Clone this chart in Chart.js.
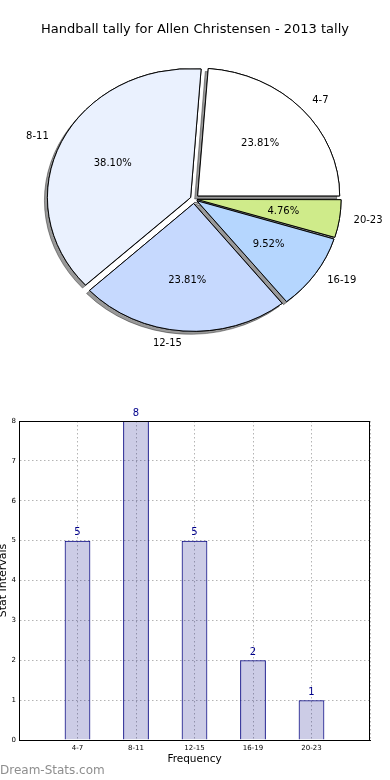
<!DOCTYPE html>
<html>
<head>
<meta charset="utf-8">
<script src="https://cdn.jsdelivr.net/npm/chart.js@4.4.0/dist/chart.umd.min.js"></script>
<style>
html, body { margin: 0; padding: 0; background: #fff; }
#wrap { position: relative; width: 390px; height: 780px; overflow: hidden; }
#pieChart { position: absolute; left: 0; top: 0; }
#barChart { position: absolute; left: 0; top: 390px; }
#mark { position: absolute; left: 0; top: 763px; font: 12px "DejaVu Sans", sans-serif; color: #8e8e8e; line-height: 14px; }
</style>
</head>
<body>
<div id="wrap">
  <canvas id="pieChart" width="390" height="390"></canvas>
  <canvas id="barChart" width="390" height="390"></canvas>
  <div id="mark">Dream-Stats.com</div>
</div>
<script>
// tally of score intervals
var chartTitle = 'Handball tally for Allen Christensen - 2013 tally';
var categories = ['4-7', '8-11', '12-15', '16-19', '20-23'];
var counts = [5, 8, 5, 2, 1];
var pieColors = ['#ffffff', '#eaf1fe', '#c6d9fe', '#b5d6fe', '#cfeb8a'];
var pieOffsets = [20, 15, 20, 14, 12];
var yTicks = [0, 1, 2, 3, 4, 5, 6, 7, 8];

Chart.defaults.font.family = '"DejaVu Sans", sans-serif';
Chart.defaults.color = '#000';

var squash = 0.9; // pie is drawn a bit flatter than round
var total = counts.reduce(function(a, b) { return a + b; }, 0);
// matplotlib draws counter-clockwise from 3 o'clock, chart.js goes clockwise
var pieOrder = [4, 3, 2, 1, 0];

var pieDeco = {
    id: 'pieDeco',
    beforeDatasetsDraw: function(chart) {
        var arcs = chart.getDatasetMeta(0).data;
        var a = arcs[0];
        var ctx = chart.ctx;
        ctx.save();
        ctx.translate(a.x, a.y);
        ctx.scale(1, squash);
        ctx.translate(-a.x, -a.y);
        // shadow pass, the normal draw covers it afterwards
        ctx.save();
        ctx.shadowColor = 'rgba(0,0,0,0.4)';
        ctx.shadowOffsetX = -3;
        ctx.shadowOffsetY = 3;
        ctx.shadowBlur = 0;
        arcs.forEach(function(arc) { arc.draw(ctx); });
        ctx.restore();
    },
    afterDatasetsDraw: function(chart) {
        var ctx = chart.ctx;
        ctx.restore();
        ctx.save();
        ctx.font = '10px "DejaVu Sans"';
        ctx.fillStyle = '#000';
        ctx.textBaseline = 'middle';
        chart.getDatasetMeta(0).data.forEach(function(arc, i) {
            var idx = pieOrder[i];
            var mid = (arc.startAngle + arc.endAngle) / 2;
            var off = (arc.options.offset || 0) / 4;
            var fix = 1 - Math.sin(Math.min(Math.PI, arc.circumference));
            var shift = off * (1 + fix);
            var cx = arc.x + Math.cos(mid) * shift;
            var cy = arc.y + Math.sin(mid) * shift * squash;
            var r = arc.outerRadius;
            var cos = Math.cos(mid), sin = Math.sin(mid);
            ctx.textAlign = 'center';
            ctx.fillText((counts[idx] / total * 100).toFixed(2) + '%', cx + cos * r * 0.6, cy + sin * r * 0.6 * squash);
            ctx.textAlign = cos > 0 ? 'left' : 'right';
            ctx.fillText(categories[idx], cx + cos * r * 1.1, cy + sin * r * 1.1 * squash);
        });
        ctx.font = '13px "DejaVu Sans"';
        ctx.textAlign = 'center';
        ctx.fillText(chartTitle, 195, 30);
        ctx.restore();
    }
};

new Chart(document.getElementById('pieChart'), {
    type: 'pie',
    data: {
        labels: pieOrder.map(function(i) { return categories[i]; }),
        datasets: [{
            data: pieOrder.map(function(i) { return counts[i]; }),
            backgroundColor: pieOrder.map(function(i) { return pieColors[i]; }),
            offset: pieOrder.map(function(i) { return pieOffsets[i]; }),
            borderColor: '#000',
            borderWidth: 1,
            radius: 142,
            clip: false
        }]
    },
    options: {
        responsive: false, animation: false,
        rotation: 90,
        layout: { padding: { left: 0, right: 2, top: 8, bottom: 0 } },
        plugins: { legend: { display: false }, tooltip: { enabled: false } }
    },
    plugins: [pieDeco]
});

var barDeco = {
    id: 'barDeco',
    afterDatasetsDraw: function(chart) {
        var ctx = chart.ctx, a = chart.chartArea;
        ctx.save();
        ctx.strokeStyle = '#000';
        ctx.lineWidth = 1;
        ctx.strokeRect(a.left + 0.5, a.top + 0.5, a.right - a.left - 1, a.bottom - a.top);
        ctx.font = '10px "DejaVu Sans"';
        ctx.fillStyle = '#00008b';
        ctx.textAlign = 'center';
        ctx.textBaseline = 'bottom';
        chart.getDatasetMeta(0).data.forEach(function(bar, i) {
            ctx.fillText(String(counts[i]), bar.x, bar.y - 3);
        });
        ctx.restore();
    }
};

var borderStyle = { display: true, color: '#000', width: 1, dash: [1.5, 2.5] };

new Chart(document.getElementById('barChart'), {
    type: 'bar',
    data: {
        datasets: [{
            data: categories.map(function(c, i) { return { x: i + 1, y: counts[i] }; }),
            backgroundColor: 'rgba(0,0,128,0.2)',
            borderColor: '#000080',
            borderWidth: 1,
            barPercentage: 0.44,
            categoryPercentage: 1
        }]
    },
    options: {
        responsive: false, animation: false,
        layout: { padding: { left: -3, right: 20, top: 31, bottom: 0 } },
        plugins: { legend: { display: false }, tooltip: { enabled: false } },
        scales: {
            x: {
                type: 'linear', min: 0, max: 6, offset: false,
                ticks: {
                    stepSize: 1, autoSkip: false, maxRotation: 0, padding: 4,
                    font: { size: 7 },
                    callback: function(v) { return categories[v - 1] || ''; }
                },
                grid: { color: '#b4b4b4', lineWidth: 1, drawTicks: false, offset: false },
                border: borderStyle,
                title: { display: true, text: 'Frequency', font: { size: 10.5 }, padding: { top: 0, bottom: 14 } },
                afterFit: function(s) { s.height = 40; }
            },
            y: {
                min: yTicks[0], max: yTicks[yTicks.length - 1],
                ticks: { stepSize: 1, padding: 3, font: { size: 7 } },
                grid: { color: '#b4b4b4', lineWidth: 1, drawTicks: false },
                border: borderStyle,
                title: { display: true, text: 'Stat Intervals', font: { size: 11 }, padding: 0 },
                afterFit: function(s) { s.width = 22; }
            }
        }
    },
    plugins: [barDeco]
});
</script>
</body>
</html>
